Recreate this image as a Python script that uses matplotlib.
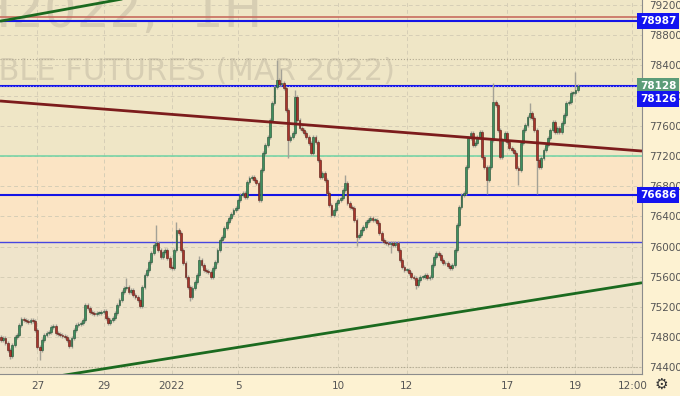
import numpy as np
import matplotlib.pyplot as plt

# hourly closes, SiH2022 (left to right)
closes = [
    74760, 74790, 74720, 74630, 74550, 74695, 74800, 74830, 74960, 75040,
    75025, 75015, 75000, 75025, 75015, 74895, 74670, 74630, 74760, 74830,
    74855, 74865, 74935, 74945, 74855, 74840, 74830, 74815, 74800, 74760,
    74680, 74790, 74895, 74960, 74975, 74985, 75025, 75225, 75185, 75130,
    75120, 75105, 75120, 75120, 75130, 75145, 75050, 74985, 75025, 75050,
    75120, 75225, 75290, 75395, 75450, 75465, 75395, 75425, 75355, 75330,
    75290, 75210,
    75465, 75620, 75690, 75795, 75915, 76020, 76045, 75955, 75860, 75925,
    75955, 75850, 75730, 75715, 75955, 76220, 76180, 75955, 75780, 75595,
    75465, 75330, 75450, 75530, 75620, 75820, 75755, 75690, 75675, 75660,
    75595, 75715, 75795, 75955, 76085, 76125, 76245, 76325, 76375, 76430,
    76485,
    76510, 76615, 76680, 76710, 76655, 76855, 76910, 76920, 76880, 76840,
    76615, 77015, 77240, 77345, 77450, 77675, 77900, 78115, 78205, 78155,
    78165, 78100, 77810, 77410, 77450, 77505, 77980, 77675, 77570, 77545,
    77505, 77450, 77370, 77240, 77450, 77385, 77145, 76920, 76975, 76880,
    76710, 76550, 76415,
    76485, 76575, 76615, 76645, 76750, 76840, 76575, 76525, 76510, 76350,
    76125, 76150, 76220, 76260, 76325, 76350, 76375, 76350, 76350, 76310,
    76180, 76085, 76060, 76045, 76035, 76045, 76020, 76045, 75955, 75820,
    75730, 75690, 75690, 75650, 75595, 75585, 75490, 75555, 75595, 75595,
    75620, 75585, 75595, 75755, 75860, 75915, 75885, 75820, 75780, 75780,
    75740, 75715, 75755,
    75955, 76285, 76525, 76680, 76710, 77055, 77440, 77505, 77345, 77370,
    77450, 77515, 77185, 77055, 76880, 77055, 77410, 77915, 77875, 77545,
    77185, 77410, 77505, 77385, 77305, 77280, 77240, 77040, 77015, 77370,
    77545, 77610, 77715, 77770, 77700, 77545, 77145, 77055, 77175, 77280,
    77345, 77440, 77545, 77650, 77515, 77570, 77515, 77635, 77740, 77900,
    77915, 78035, 78035, 78075, 78128,
]
open0 = 74800
wick = 30  # typical wick beyond the body

# notable wicks (candle index -> price)
spike_hi = {55: 75580, 68: 76290, 77: 76320, 87: 75870, 121: 78470, 123: 78350,
            129: 78080, 151: 76950, 216: 78170, 232: 77900, 252: 78310}
spike_lo = {4: 74510, 17: 74490, 83: 75280, 126: 77175, 156: 76010, 171: 75915,
            182: 75440, 213: 76700, 227: 76810, 235: 76690}

date_pos = [16, 45, 75, 104, 148, 178, 222, 252, 277]
date_labels = ['27', '29', '2022', '5', '10', '12', '17', '19', '12:00']

blue_levels = [78987, 78126, 76686]
blue_thin = 76060
maroon_level = 79035
mint_level = 77200
dotted_levels = [78480, 74405]

# trend lines: (x0, p0, x1, p1) in candle units
green_low = (-0.4, 74160, 281.2, 75520)
maroon_tl = (-0.4, 77928, 281.2, 77265)
green_top = (-0.4, 78985, 57, 79300)

yticks = np.arange(74400, 79201, 400)
last_price = 78128

# ---- figure
fig = plt.figure(figsize=(6.8, 3.96), dpi=100, facecolor='#fdf2d2')
ax = fig.add_axes([0, 22 / 396, 642 / 680, 374 / 396])
ax.set_facecolor('#efe6c6')
ymin, ymax = 74311, 79266
xmin, xmax = -0.4, 281.2

ax.axhspan(ymin, blue_thin, color='#efe4cb', zorder=0, lw=0)
ax.axhspan(blue_thin, mint_level, color='#fbe4c4', zorder=0, lw=0)

for t in yticks:
    ax.axhline(t, color='#d6ceb6', lw=0.7, ls=(0, (4, 3)), zorder=0.5)
for p in date_pos:
    ax.axvline(p, color='#d6ceb6', lw=0.7, ls=(0, (4, 3)), zorder=0.5)

# watermark
ax.text(262 / 642, 1 - 27 / 374, 'SIH2022,  1H', transform=ax.transAxes, ha='right',
        va='baseline', fontsize=37, color='#d7ceb3', zorder=0.6, clip_on=True)
ax.text(395 / 642, 1 - 80 / 374, 'U.S. DOLLAR - RUSSIAN RUBLE FUTURES (MAR 2022)',
        transform=ax.transAxes, ha='right', va='baseline', fontsize=22,
        color='#d7ceb3', zorder=0.6, clip_on=True)

# horizontal levels
ax.axhline(maroon_level, color='#c86c5e', lw=1.2, zorder=2)
for lv in blue_levels:
    ax.axhline(lv, color='#1414e6', lw=1.5, zorder=2)
ax.axhline(78126, color='#8a8aff', lw=0.8, ls=':', zorder=2.1)
ax.axhline(blue_thin, color='#4646e0', lw=1.0, zorder=2)
ax.axhline(mint_level, color='#6fd3a4', lw=1.1, zorder=2)
for lv in dotted_levels:
    ax.axhline(lv, color='#b0a890', lw=0.8, ls=':', zorder=1)

# candles
closes = np.array(closes, dtype=float)
opens = np.concatenate([[open0], closes[:-1]])
highs = np.maximum(opens, closes) + wick
lows = np.minimum(opens, closes) - wick
for i, v in spike_hi.items():
    highs[i] = v
for i, v in spike_lo.items():
    lows[i] = v
x = np.arange(len(closes))
up = closes >= opens
ax.vlines(x, lows, highs, color='#a3a196', lw=1.0, zorder=3)
body = np.maximum(np.abs(closes - opens), 8)
bot = np.minimum(opens, closes)
ax.bar(x[up], body[up], bottom=bot[up], width=0.8, color='#3f8f5e',
       edgecolor='#1f4d33', linewidth=0.4, zorder=4)
ax.bar(x[~up], body[~up], bottom=bot[~up], width=0.8, color='#a8352c',
       edgecolor='#5a1812', linewidth=0.4, zorder=4)

# trend lines
for (x0, p0, x1, p1), col in [(green_low, '#1b6a1f'), (maroon_tl, '#7c1c1c'),
                              (green_top, '#1b6a1f')]:
    ax.plot([x0, x1], [p0, p1], color=col, lw=2.0, zorder=5, solid_capstyle='butt')

ax.set_xlim(xmin, xmax)
ax.set_ylim(ymin, ymax)

ax.yaxis.tick_right()
ax.set_yticks(yticks)
ax.set_yticklabels([str(t) for t in yticks])
ax.tick_params(axis='y', length=0, pad=5, labelsize=7.5, labelcolor='#555555')
ax.set_xticks(date_pos)
ax.set_xticklabels(date_labels)
ax.tick_params(axis='x', length=0, pad=5, labelsize=7.5, labelcolor='#555555')
for s in ['top', 'left']:
    ax.spines[s].set_visible(False)
ax.spines['right'].set_color('#8c8c8c')
ax.spines['bottom'].set_color('#8c8c8c')

# price labels on the right scale
def price_tag(y_px, txt, col):
    fig.text(658 / 680, 1 - y_px / 396, txt, ha='center', va='center', fontsize=7.5,
             color='white', fontweight='bold', zorder=10,
             bbox=dict(boxstyle='square,pad=0.25', fc=col, ec='none'))

price_tag(21, '78987', '#1414f0')
price_tag(86, str(last_price), '#5c9c78')
price_tag(99, '78126', '#1414f0')
price_tag(195, '76686', '#1414f0')

fig.text(661 / 680, 1 - 384 / 396, '\u2699', ha='center', va='center', fontsize=11,
         color='#333333')

plt.savefig('out.png', dpi=100, facecolor=fig.get_facecolor())
